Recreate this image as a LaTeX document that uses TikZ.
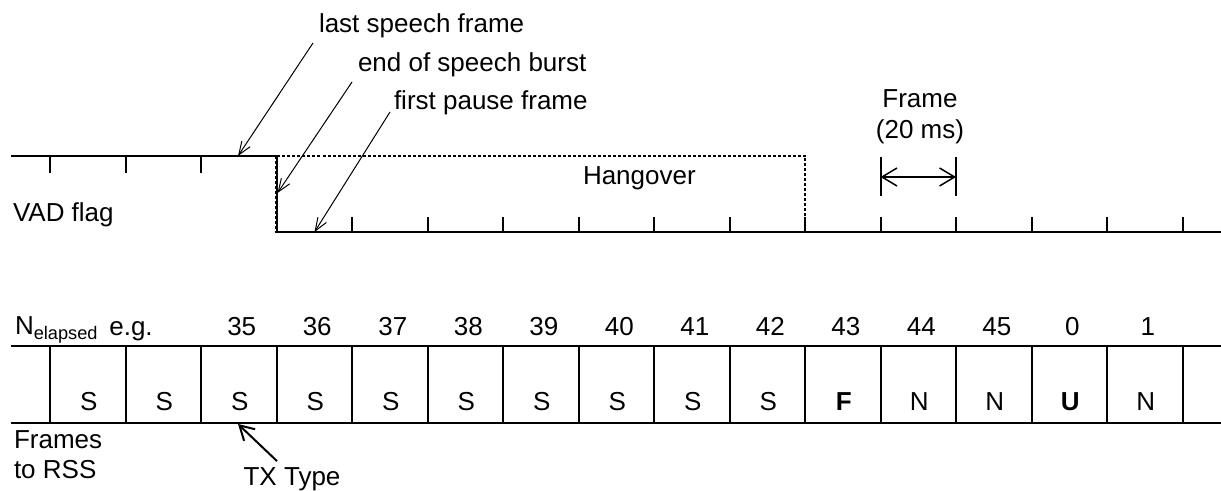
\documentclass[tikz,border=0pt]{standalone}
\usepackage{fontspec}
\setmainfont{Liberation Sans}
\usetikzlibrary{arrows.meta,calc}

\begin{document}
\begin{tikzpicture}[x=0.5pt, y=-0.5pt, line width=1pt,
    every node/.style={inner sep=0pt, font=\fontsize{13}{15}\selectfont},
    lbl/.style={anchor=base west},
    thinarrow/.style={line width=0.5pt, -{Straight Barb[length=6.5pt,width=5pt]}},
    hang/.style={line width=1.2pt, dash pattern=on 1.5pt off 1pt}]

    \useasboundingbox (0,0) rectangle (1221,491);

    % frame ticks
    \foreach \i in {0,...,15}
        \coordinate (t\i) at ({50+75.5*\i},0);

    \coordinate (vhi) at (11,156);
    \coordinate (vlo) at (1221,232);

    \draw (vhi) -- (t3 |- vhi) -- (t3 |- vlo) -- (vlo);
    \draw[hang] (t3 |- vhi) rectangle (t10 |- vlo);
    \foreach \i in {0,1,2}
        \draw (t\i |- vhi) -- ++(0,17);
    \foreach \i in {4,...,15}
        \draw (t\i |- vlo) -- ++(0,-15);

    \node[lbl] (last) at (318,33) {last speech frame};
    \node[lbl] (eosb) at (357,72) {end of speech burst};
    \node[lbl] (fpf) at (393,110) {first pause frame};
    \node[lbl] (vad) at (12,222) {VAD flag};
    \node[lbl] (hang) at (582,185) {Hangover};

    \coordinate (alast) at ($(t2 |- vhi)+(37,0)$);
    \coordinate (aeosb) at ($(t3 |- vhi)+(1,37)$);
    \coordinate (afpf) at ($(t3 |- vlo)+(38,0)$);
    \draw[thinarrow] ($(last.base west)+(-5,10)$) -- (alast);
    \draw[thinarrow] ($(eosb.base west)+(-5,10)$) -- (aeosb);
    \draw[thinarrow] ($(fpf.base west)+(-3,2)$) -- (afpf);

    % one frame
    \node[anchor=base] (frm) at (920,108) {Frame};
    \node[anchor=base] (frmms) at (920,139) {(20 ms)};
    \coordinate (fl) at ($(t11)+(0,157)$);
    \coordinate (fr) at ($(t12)+(0,157)$);
    \draw (fl) -- ++(0,39);
    \draw (fr) -- ++(0,39);
    \draw[line width=0.75pt, {Straight Barb[length=7.5pt,width=9pt]}-{Straight Barb[length=7.5pt,width=9pt]}] ($(fl)+(0,20)$) -- ($(fr)+(0,20)$);

    % frames to RSS
    \coordinate (rtop) at (11,346);
    \coordinate (rbot) at (11,423);
    \coordinate (rtopE) at (1221,346);
    \coordinate (rbotE) at (1221,423);
    \draw (rtop) -- (rtopE);
    \draw (rbot) -- (rbotE);
    \foreach \i in {0,...,15}
        \draw (t\i |- rtop) -- (t\i |- rbot);

    \foreach \lab [count=\i from 0] in {S,S,S,S,S,S,S,S,S,S,\textbf{F},N,N,\textbf{U},N}
        \node[anchor=base] (c\i) at ({88.75+75.5*\i},411) {\lab};
    \foreach \n [count=\i from 2] in {35,36,37,38,39,40,41,42,43,44,45,0,1}
        \node[anchor=base] (n\i) at ({90.75+75.5*\i},336) {\n};

    \node[lbl] (nel) at (14,335) {N\textsubscript{elapsed}};
    \node[anchor=base] (eg) at (131,336) {e.g.};
    \node[lbl] (frs1) at (13,449) {Frames};
    \node[lbl] (frs2) at (13,479) {to RSS};

    \node[anchor=base] (txt) at (292,486) {TX Type};
    \coordinate (atx) at ($(t2 |- rbot)+(37,1)$);
    \draw[-{Straight Barb[length=7pt,width=8pt]}] ($(txt.north)+(-15,-6)$) -- (atx);

\end{tikzpicture}
\end{document}
